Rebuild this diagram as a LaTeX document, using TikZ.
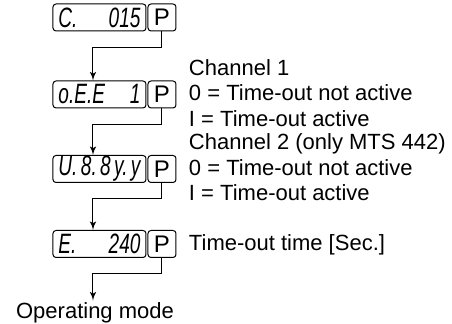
\documentclass[tikz,border=0pt]{standalone}
\usepackage{fontspec}
\usepackage{graphicx}
\setmainfont{Liberation Sans}
\newfontfamily\segfont{Liberation Sans}
\usetikzlibrary{positioning,arrows,calc}
\tikzstyle{disp} = [draw, rectangle, rounded corners=1.5pt, inner sep=0pt,
    minimum height=13.5pt, minimum width=46.5pt, font=\segfont\itshape\fontsize{14}{14}\selectfont]
\tikzstyle{key} = [draw, rectangle, rounded corners=1.5pt, inner sep=0pt,
    minimum height=13.5pt, minimum width=14pt, font=\fontsize{12}{12}\selectfont]
\tikzstyle{lbl} = [inner sep=0pt, text height=8.5pt, text depth=2pt, anchor=west,
    font=\fontsize{11}{11}\selectfont]
% narrow segment glyphs
\newcommand{\sg}[1]{\scalebox{.68}[1]{#1}}
\newcommand{\segtext}[2]{\makebox[41pt]{\sg{#1}\hfill\sg{#2}}}
\begin{document}
\begin{tikzpicture}[x=0.5pt, y=-0.5pt, >=latex', line width=0.5pt, node distance=1.75pt]
\useasboundingbox (0,0) rectangle (452,324);

% displays and P keys
\node (d1) [disp] at (99.5,17.5) {\segtext{C.}{015}};
\node (p1) [key, right=0.5pt of d1] {P};
\node (d2) [disp] at (99.5,94.5) {\segtext{o.E.E}{1}};
\node (p2) [key, right=0.5pt of d2] {P};
\node (d3) [disp] at (99.5,169) {\makebox[41pt]{\sg{U.}\hfill\sg{8.}\hfill\sg{8}\hfill\sg{y.}\hfill\sg{y}}};
\node (p3) [key, right=0.5pt of d3] {P};
\node (d4) [disp] at (99.5,244) {\segtext{E.}{240}};
\node (p4) [key, right=0.5pt of d4] {P};

\node (op) [inner sep=1pt, font=\fontsize{11}{11}\selectfont, anchor=base] at (95,319) {Operating mode};

% texts
\node (zero1) [lbl, right=6pt of p2] {0 = Time-out not active};
\node (ch1) [lbl, above=of zero1.north west, anchor=south west] {Channel 1};
\node (one1) [lbl, below=of zero1.south west, anchor=north west] {I = Time-out active};
\node (zero2) [lbl, right=6pt of p3] {0 = Time-out not active};
\node (ch2) [lbl, above=of zero2.north west, anchor=south west] {Channel 2 (only MTS 442)};
\node (one2) [lbl, below=of zero2.south west, anchor=north west] {I = Time-out active};
\node (tout) [lbl, right=6pt of p4] {Time-out time [Sec.]};

% flow
\draw[->] (p1.south) -- ++(0,16) -| ([xshift=-3.25pt]d2.north);
\draw[->] (p2.south) -- ++(0,16) -| ([xshift=-3.25pt]d3.north);
\draw[->] (p3.south) -- ++(0,16) -| ([xshift=-3.25pt]d4.north);
\draw[->] (p4.south) -- ++(0,16) -| ([xshift=-3.25pt]d4.south |- op.north);
\end{tikzpicture}
\end{document}
